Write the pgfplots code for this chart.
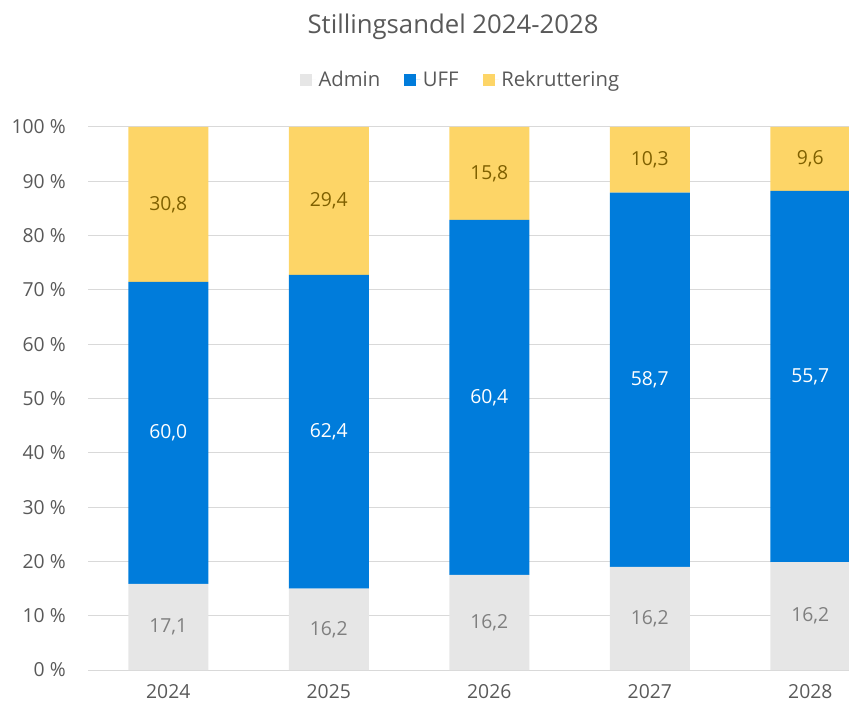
\documentclass[border=0pt]{standalone}
\usepackage{pgfplots}
\pgfplotsset{compat=1.18}
\usepackage{pgfplotstable}
\usepackage{fontspec}
\setmainfont{Open Sans}
\definecolor{cadmin}{HTML}{E6E6E6}
\definecolor{cuff}{HTML}{007CDB}
\definecolor{crek}{HTML}{FDD567}
\definecolor{txtgray}{HTML}{595959}
\definecolor{lblgray}{HTML}{7F7F7F}
\definecolor{lblolive}{HTML}{7F6000}
\definecolor{gridgray}{HTML}{D9D9D9}

% shares in percent (normalised), raw values as labels, midpoints for labels
\pgfplotstableread{
x  a       u       r       al    ul    rl    am     um     rm
0  15.848  55.607  28.545  17,1  60,0  30,8  7.924  43.652 85.728
1  15.000  57.778  27.222  16,2  62,4  29,4  7.500  43.889 86.389
2  17.532  65.368  17.100  16,2  60,4  15,8  8.766  50.216 91.450
3  19.014  68.897  12.089  16,2  58,7  10,3  9.507  53.463 93.956
4  19.877  68.344  11.779  16,2  55,7  9,6   9.939  54.049 94.111
}\datatable

\pgfplotsset{
  common/.style={
    at={(66pt,30.75pt)}, anchor=south west,
    scale only axis, width=570.75pt, height=407.25pt,
    xmin=-0.5, xmax=4.241, ymin=0, ymax=100,
  }
}

\begin{document}
\begin{tikzpicture}[font=\fontsize{14.5}{17}\selectfont]
\begin{axis}[common,
  ybar stacked, bar width=60pt,
  axis line style={draw=none},
  major tick length=0pt,
  ymajorgrids, grid style={gridgray, line width=0.75pt},
  ytick={0,10,...,100},
  /pgf/number format/assume math mode=true,
  yticklabel={\pgfmathprintnumber{\tick} \%},
  yticklabel style={anchor=east, inner sep=0pt, xshift=-16.5pt, text=txtgray},
  xtick={0,1,2,3,4},
  xticklabels={2024,2025,2026,2027,2028},
  xticklabel style={anchor=north, inner sep=0pt, yshift=-11pt, text=txtgray},
  legend columns=3,
  legend style={draw=none, fill=none, at={(0.49,1.0866)}, anchor=center,
    text=txtgray, font=\fontsize{15.2}{18}\selectfont,
    /tikz/every even column/.append style={column sep=16pt}},
  legend image code/.code={\fill[#1] (0pt,-4.5pt) rectangle (9pt,4.5pt);
    \path (0pt,0pt) -- (12pt,0pt);},
]
\addplot[fill=cadmin, draw=none] table[x=x, y=a] {\datatable};
\addlegendentry{Admin}
\addplot[fill=cuff, draw=none] table[x=x, y=u] {\datatable};
\addlegendentry{UFF}
\addplot[fill=crek, draw=none] table[x=x, y=r] {\datatable};
\addlegendentry{Rekruttering}
\end{axis}
\begin{axis}[common, hide axis]
\addplot[draw=none, mark=none, nodes near coords, point meta=explicit symbolic,
  nodes near coords align={center}, every node near coord/.append style={text=lblgray}]
  table[x=x, y=am, meta=al] {\datatable};
\addplot[draw=none, mark=none, nodes near coords, point meta=explicit symbolic,
  nodes near coords align={center}, every node near coord/.append style={text=white}]
  table[x=x, y=um, meta=ul] {\datatable};
\addplot[draw=none, mark=none, nodes near coords, point meta=explicit symbolic,
  nodes near coords align={center}, every node near coord/.append style={text=lblolive}]
  table[x=x, y=rm, meta=rl] {\datatable};
\end{axis}
\node[text=txtgray, font=\fontsize{19.3}{23}\selectfont] at (339.75pt,513pt) {Stillingsandel 2024-2028};
\pgfresetboundingbox
\path[use as bounding box] (0,0) rectangle (636.75pt,533.25pt);
\end{tikzpicture}
\end{document}
